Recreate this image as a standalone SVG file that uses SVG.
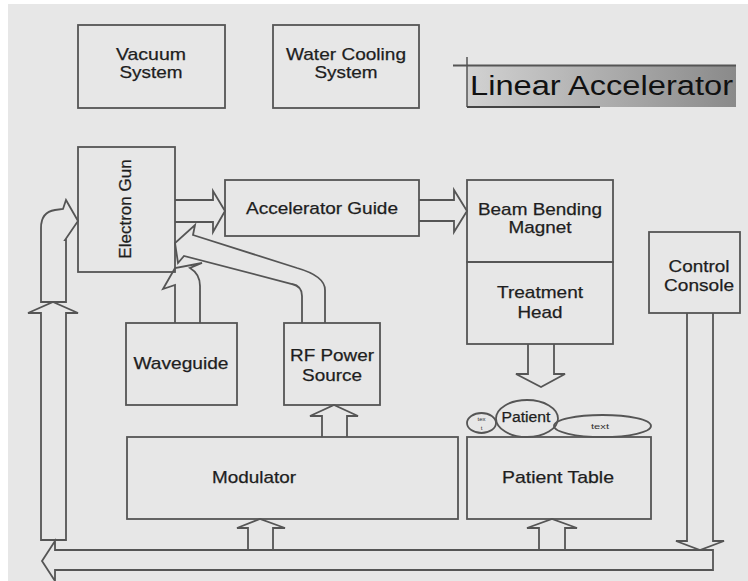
<svg xmlns="http://www.w3.org/2000/svg" width="748" height="581" viewBox="0 0 748 581">
  <defs>
    <linearGradient id="titleFill" x1="0" y1="0" x2="1" y2="0">
      <stop offset="0" stop-color="#d2d2d2"/>
      <stop offset="1" stop-color="#8a8a8a"/>
    </linearGradient>
    <style>
      .box { fill: none; stroke: #555; stroke-width: 1.8; }
      .conn { fill: none; stroke: #555; stroke-width: 1.8; stroke-linejoin: miter; }
      .lbl { font-family: "Liberation Sans", Arial, sans-serif; font-size: 17px; fill: #1e1e1e; stroke: #1e1e1e; stroke-width: 0.25; text-anchor: middle; }
      .tiny { font-family: "Liberation Sans", Arial, sans-serif; fill: #333; text-anchor: middle; }
    </style>
  </defs>

  <!-- page -->
  <rect x="0" y="0" width="748" height="581" fill="#ffffff"/>
  <rect x="8" y="4" width="740" height="577" fill="#e7e7e7"/>

  <!-- title banner -->
  <g id="title">
    <rect x="467" y="66" width="269" height="41" fill="url(#titleFill)"/>
    <line x1="453" y1="65.5" x2="736" y2="65.5" stroke="#555" stroke-width="2"/>
    <line x1="467" y1="57" x2="467" y2="107" stroke="#555" stroke-width="1.5"/>
    <line x1="467" y1="107" x2="600" y2="107" stroke="#444" stroke-width="2"/>
    <text x="470" y="95" font-family="'Liberation Sans', Arial, sans-serif" font-size="27" fill="#111" textLength="263" lengthAdjust="spacingAndGlyphs">Linear Accelerator</text>
  </g>

  <!-- connectors -->
  <g id="connectors" class="conn">
    <!-- Electron Gun to Accelerator Guide -->
    <path d="M175,200 H213 V191 L225,211 L213,232 V222 H175"/>
    <!-- Accelerator Guide to Beam Bending Magnet -->
    <path d="M419,200 H454 V190 L467,211 L454,232 V221 H419"/>
    <!-- Treatment Head down to patient -->
    <path d="M528,344 V374 H516 L541,387 L565,374 H554 V344"/>
    <!-- Modulator up to RF Power Source -->
    <path d="M322,437 V416 H310 L334,405 L358,416 H347 V437"/>
    <!-- bus up to Modulator -->
    <path d="M248,550 V528 H237 L260,519 L285,528 H273 V550"/>
    <!-- bus up to Patient Table -->
    <path d="M539,550 V528 H527 L552,519 L577,528 H565 V550"/>
    <!-- Control Console down to bus -->
    <path d="M687,313 V541 H676 L700,550 L724,541 H713 V313"/>
    <!-- bottom bus, pointing left -->
    <path d="M713,550 H55 V541 L42,561 L55,581 V570 H713 Z"/>
    <!-- left riser -->
    <path d="M41,540 V313 H28 L53,302 L78,313 H66 V540 Z"/>
    <!-- bent arrow into Electron Gun -->
    <path d="M41,302 V228 Q41,212 55,210 L63,209 L66,200 L78,221 L65,240 L66,240 V302 Z"/>
    <!-- RF Power Source to Electron Gun -->
    <path d="M302,323 V296 Q302,286 292,284 L184,256 L178,263 L175,243 L195,225 L193,235 L297,268 Q325,276 325,290 V323"/>
    <!-- Waveguide to Electron Gun -->
    <path d="M175,323 V285 L163,289 L175,268 L202,263 L190,268 Q200,274 200,286 V323"/>
  </g>

  <g id="vacuum-system">
    <rect class="box" x="78" y="25" width="147" height="83"/>
    <text class="lbl" x="151" y="60" textLength="70" lengthAdjust="spacingAndGlyphs">Vacuum</text>
    <text class="lbl" x="151" y="78" textLength="63" lengthAdjust="spacingAndGlyphs">System</text>
  </g>

  <g id="water-cooling-system">
    <rect class="box" x="273" y="25" width="146" height="83"/>
    <text class="lbl" x="346" y="60" textLength="120" lengthAdjust="spacingAndGlyphs">Water Cooling</text>
    <text class="lbl" x="346" y="78" textLength="63" lengthAdjust="spacingAndGlyphs">System</text>
  </g>

  <g id="electron-gun">
    <rect class="box" x="78" y="147" width="97" height="125"/>
    <text class="lbl" x="125" y="215" transform="rotate(-90 125 209)">Electron Gun</text>
  </g>

  <g id="accelerator-guide">
    <rect class="box" x="225" y="180" width="194" height="56"/>
    <text class="lbl" x="322" y="214" textLength="152" lengthAdjust="spacingAndGlyphs">Accelerator Guide</text>
  </g>

  <g id="beam-bending-magnet">
    <rect class="box" x="467" y="180" width="146" height="82"/>
    <text class="lbl" x="540" y="215" textLength="124" lengthAdjust="spacingAndGlyphs">Beam Bending</text>
    <text class="lbl" x="540" y="233" textLength="63" lengthAdjust="spacingAndGlyphs">Magnet</text>
  </g>

  <g id="treatment-head">
    <rect class="box" x="467" y="262" width="146" height="82"/>
    <text class="lbl" x="540" y="298" textLength="86" lengthAdjust="spacingAndGlyphs">Treatment</text>
    <text class="lbl" x="540" y="318" textLength="45" lengthAdjust="spacingAndGlyphs">Head</text>
  </g>

  <g id="control-console">
    <rect class="box" x="649" y="232" width="91" height="81"/>
    <text class="lbl" x="699" y="272" textLength="61" lengthAdjust="spacingAndGlyphs">Control</text>
    <text class="lbl" x="699" y="291" textLength="70" lengthAdjust="spacingAndGlyphs">Console</text>
  </g>

  <g id="waveguide">
    <rect class="box" x="126" y="323" width="111" height="82"/>
    <text class="lbl" x="181" y="369" textLength="95" lengthAdjust="spacingAndGlyphs">Waveguide</text>
  </g>

  <g id="rf-power-source">
    <rect class="box" x="284" y="323" width="96" height="82"/>
    <text class="lbl" x="332" y="361" textLength="84" lengthAdjust="spacingAndGlyphs">RF Power</text>
    <text class="lbl" x="332" y="381" textLength="60" lengthAdjust="spacingAndGlyphs">Source</text>
  </g>

  <g id="modulator">
    <rect class="box" x="127" y="437" width="331" height="82"/>
    <text class="lbl" x="254" y="483" textLength="84" lengthAdjust="spacingAndGlyphs">Modulator</text>
  </g>

  <g id="patient-table">
    <rect class="box" x="467" y="437" width="184" height="82"/>
    <text class="lbl" x="558" y="483" textLength="112" lengthAdjust="spacingAndGlyphs">Patient Table</text>
  </g>

  <g id="patient">
    <ellipse class="box" cx="481.5" cy="423" rx="14.5" ry="10"/>
    <text class="tiny" x="481.5" y="421" font-size="6">tex</text>
    <text class="tiny" x="481.5" y="430" font-size="6">t</text>
    <ellipse class="box" cx="527" cy="418.5" rx="31" ry="18.5"/>
    <text class="lbl" x="526" y="422" style="font-size:14px" textLength="49" lengthAdjust="spacingAndGlyphs">Patient</text>
    <ellipse class="box" cx="602.5" cy="426" rx="48.5" ry="11"/>
    <text class="tiny" x="600" y="429" font-size="7" textLength="18" lengthAdjust="spacingAndGlyphs">text</text>
  </g>
</svg>
